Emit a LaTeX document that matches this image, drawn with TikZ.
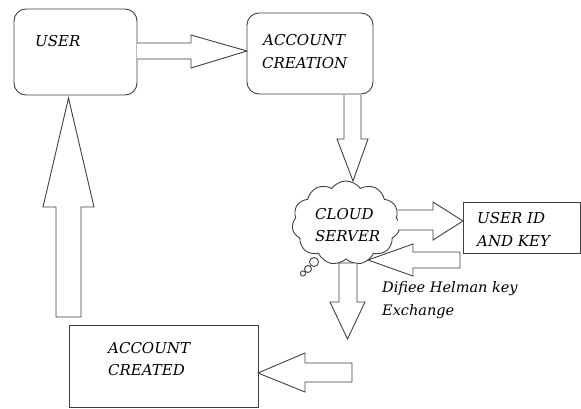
\documentclass[tikz,border=0pt]{standalone}
\usepackage{fontspec}
\setmainfont{DejaVu Serif}
\usetikzlibrary{shapes.symbols}
\begin{document}
\begin{tikzpicture}[x=1pt,y=-1pt,
  line/.style={draw=black!75,line width=0.9pt,line join=miter},
  box/.style={line,rectangle,inner sep=0pt},
  rbox/.style={box,rounded corners=12pt},
  blockarrow/.style={line,fill=white},
  lbl/.style={anchor=base west,inner sep=0pt,font=\fontsize{15}{18}\selectfont\itshape,text=black},
  slbl/.style={lbl,font=\fontsize{14.5}{17}\selectfont\itshape}]
\useasboundingbox (0,0) rectangle (581,408);
% boxes
\draw[rbox] (14,9) rectangle (137,95);
\node (user) at (75.5,52) {};
\draw[rbox] (247,13) rectangle (373,94);
\node (creation) at (310,53.5) {};
\draw[box] (463,202) rectangle (580,253);
\node (userid) at (521.5,227.5) {};
\draw[box] (69,325) rectangle (258,407);
\node (created) at (163.5,366) {};
% cloud
\node[cloud,cloud puffs=11,cloud puff arc=110,aspect=1.3,line,minimum width=108pt,minimum height=84pt,inner sep=0pt] (cloud) at (346,223) {};
\draw[line] (314,262) circle (4.5pt);
\draw[line] (308,269) circle (3.5pt);
\draw[line] (303,273.5) circle (2.6pt);
% block arrows
\draw[blockarrow] (137,43) -- (191,43) -- (191,35) -- (247,51) -- (191,68) -- (191,59) -- (137,59);
\draw[blockarrow] (344,95) -- (344,139) -- (337,139) -- (353,181) -- (368,139) -- (361,139) -- (361,95);
\draw[blockarrow] (398,210) -- (433,210) -- (433,202) -- (463,221) -- (433,240) -- (433,230) -- (398,230);
\draw[blockarrow] (460,252) -- (413,252) -- (413,244) -- (368,260) -- (413,276) -- (413,268) -- (460,268) -- cycle;
\draw[blockarrow] (339,263) -- (339,302) -- (330,302) -- (347.5,339) -- (365,302) -- (357,302) -- (357,263) -- cycle;
\draw[blockarrow] (352,363) -- (305,363) -- (305,353) -- (258,373) -- (305,392) -- (305,382) -- (352,382) -- cycle;
\draw[blockarrow] (56,317) -- (56,207) -- (43,207) -- (68.5,98) -- (94,207) -- (81,207) -- (81,317) -- cycle;
% labels
\node[lbl] (tuser) at (35,46) {USER};
\node[lbl] (tcr1) at (263,45) {ACCOUNT};
\node[lbl] (tcr2) at (262,68) {CREATION};
\node[lbl] (tcl1) at (315,219) {CLOUD};
\node[lbl] (tcl2) at (315,241) {SERVER};
\node[lbl] (tid1) at (477,223) {USER ID};
\node[lbl] (tid2) at (477,246) {AND KEY};
\node[slbl] (tdh1) at (382,292) {Difiee Helman key};
\node[slbl] (tdh2) at (382,315) {Exchange};
\node[lbl] (tcd1) at (108,353) {ACCOUNT};
\node[lbl] (tcd2) at (108,375) {CREATED};
\end{tikzpicture}
\end{document}
